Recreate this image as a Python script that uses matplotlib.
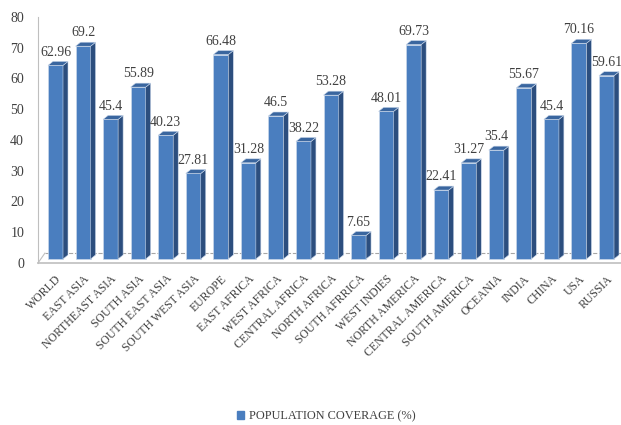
import numpy as np
import matplotlib.pyplot as plt
from matplotlib.patches import Polygon, Patch

# data
regions = ["WORLD", "EAST ASIA", "NORTHEAST ASIA", "SOUTH ASIA", "SOUTH EAST ASIA",
           "SOUTH WEST ASIA", "EUROPE", "EAST AFRICA", "WEST AFRICA", "CENTRAL AFRICA",
           "NORTH AFRICA", "SOUTH AFRRICA", "WEST INDIES", "NORTH AMERICA",
           "CENTRAL AMERICA", "SOUTH AMERICA", "OCEANIA", "INDIA", "CHINA", "USA", "RUSSIA"]
coverage = [62.96, 69.2, 45.4, 55.89, 40.23, 27.81, 66.48, 31.28, 46.5, 38.22,
            53.28, 7.65, 48.01, 69.73, 22.41, 31.27, 35.4, 55.67, 45.4, 70.16, 59.61]
y_ticks = [0, 10, 20, 30, 40, 50, 60, 70, 80]
series_name = "POPULATION COVERAGE (%)"

front_col = '#4A7EBF'
side_col = '#2C4E7E'
top_col = '#3A669F'
text_col = '#404040'
serif = 'Liberation Serif'

fig = plt.figure(figsize=(6.21, 4.25), dpi=100)
ax = fig.add_axes([38 / 621, 1 - 263 / 425, 583 / 621, 246 / 425])

pitch = 27.55  # px per category
x = np.arange(len(regions))
w = 15 / pitch   # front face width
dx = 5 / pitch   # depth offset (x, data units)
dy = 1.3         # depth offset (y, data units)
base = 1.3       # bars sit a bit behind the front floor edge

ax.bar(x, coverage, width=w, bottom=base, color=front_col,
       edgecolor='#C9D7EA', linewidth=0.5, zorder=3)

for xi, v in zip(x, coverage):
    r = xi + w / 2
    l = xi - w / 2
    side = Polygon([(r, base), (r + dx, base + dy), (r + dx, base + v + dy), (r, base + v)],
                   closed=True, facecolor=side_col, edgecolor='#C9D7EA', lw=0.4, zorder=3)
    top = Polygon([(l, base + v), (l + dx, base + v + dy), (r + dx, base + v + dy), (r, base + v)],
                  closed=True, facecolor=top_col, edgecolor='#C9D7EA', lw=0.4, zorder=3)
    ax.add_patch(side)
    ax.add_patch(top)
    ax.annotate(f"{v:g}", (xi, base + v + dy), xytext=(0, 2), textcoords='offset points',
                ha='center', va='bottom', fontsize=10, family=serif, color=text_col, zorder=4)

x0 = -17.5 / pitch
ax.set_xlim(x0, x0 + 583 / pitch)
ax.set_ylim(0, 80)
ax.set_yticks(y_ticks)
ax.set_yticklabels([str(t) for t in y_ticks], family=serif, fontsize=10, color=text_col)
ax.tick_params(axis='y', length=0, pad=10)

ax.set_xticks(x)
ax.set_xticklabels(regions, rotation=45, ha='right', rotation_mode='anchor',
                   family=serif, fontsize=8.5, color=text_col)
ax.tick_params(axis='x', length=0, pad=7)

for s in ['top', 'right']:
    ax.spines[s].set_visible(False)
ax.spines['left'].set_color('#BFBFBF')
ax.spines['bottom'].set_color('#BFBFBF')
ax.spines['bottom'].set_linewidth(1.2)

# floor: back edge and left corner
ax.plot([x0 + 0.25, ax.get_xlim()[1]], [3.2, 3.2], ls='--', color='#A6A6A6', lw=0.8, zorder=1)
ax.plot([x0, x0 + 0.25], [0, 3.2], color='#BFBFBF', lw=0.8, zorder=1, clip_on=False)

fig.legend(handles=[Patch(color=front_col)], labels=[series_name], loc='lower center',
           bbox_to_anchor=(0.525, -0.02), frameon=False, handlelength=0.6, handleheight=0.6,
           handletextpad=0.4, prop={'family': serif, 'size': 8.8}, labelcolor=text_col)

fig.savefig('out.png', dpi=100)
